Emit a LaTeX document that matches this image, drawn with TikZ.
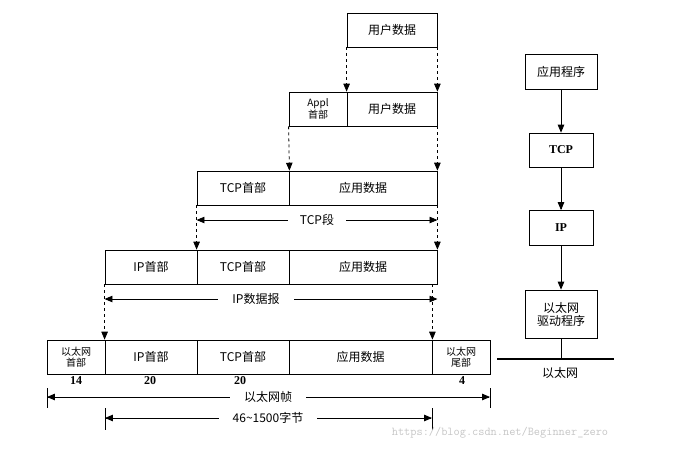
\documentclass[tikz,border=0pt]{standalone}
\usepackage{fontspec}
\setmainfont{Liberation Serif}
\newfontfamily\cjk{Noto Sans CJK SC}
\usetikzlibrary{arrows}

\begin{document}
\begin{tikzpicture}[x=1pt, y=-1pt, font=\cjk\fontsize{12}{13}\selectfont]
      \tikzstyle{cell} = [
        rectangle,
        draw,
        thick,
        inner sep = 0pt,
        align = center,
        minimum height = 34pt
      ]

      \tikzstyle{layer} = [
        rectangle,
        draw,
        thick,
        inner sep = 0pt,
        align = center
      ]

      \tikzstyle{down} = [-triangle 45, thick, dashed]
      \tikzstyle{span} = [triangle 45-triangle 45, thick]
      \tikzstyle{small} = [font=\cjk\fontsize{10}{10.5}\selectfont]
      \tikzstyle{heavy} = [font=\rmfamily\bfseries\fontsize{12}{13}\selectfont]

      \useasboundingbox (0,0) rectangle (674,453);

      % user data
      \node[cell, minimum width=90pt] (user1) at (392,30) {用户数据};

      % application layer
      \node[cell, minimum width=58pt, small] (appl) at (318,109) {Appl\\首部};
      \node[cell, minimum width=90pt] (user2) at (392,109) {用户数据};

      % tcp segment
      \node[cell, minimum width=92pt] (tcph3) at (243,188) {TCP首部};
      \node[cell, minimum width=148pt] (data3) at (363,188) {应用数据};

      % ip datagram
      \node[cell, minimum width=92pt] (iph4) at (151,267) {IP首部};
      \node[cell, minimum width=92pt] (tcph4) at (243,267) {TCP首部};
      \node[cell, minimum width=148pt] (data4) at (363,267) {应用数据};

      % ethernet frame
      \node[cell, minimum width=58pt, small] (ethh) at (76,357) {以太网\\首部};
      \node[cell, minimum width=92pt] (iph5) at (151,357) {IP首部};
      \node[cell, minimum width=92pt] (tcph5) at (243,357) {TCP首部};
      \node[cell, minimum width=143pt] (data5) at (360.5,357) {应用数据};
      \node[cell, minimum width=58pt, small] (etht) at (461,357) {以太网\\尾部};

      \node[heavy] (n14) at (76,381) {14};
      \node[heavy] (n20a) at (150,381) {20};
      \node[heavy] (n20b) at (240,381) {20};
      \node[heavy] (n4) at (462,381) {4};

      % dashed arrows between rows
      \draw[down] (user1.south west) -- (user2.north west);
      \draw[down] (user1.south east) -- (user2.north east);
      \draw[down] (appl.south west) -- (tcph3.north east);
      \draw[down] (user2.south east) -- (data3.north east);
      \draw[down] (tcph3.south west) -- (tcph4.north west);
      \draw[down] (data3.south east) -- (data4.north east);
      \draw[down] (iph4.south west) -- (iph5.north west);
      \draw[down] (data5.north east |- data4.south) -- (data5.north east);

      % spans
      \draw[span] (tcph3.south west |- 0,220) -- (data3.south east |- 0,220);
      \node[fill=white, inner xsep=12pt] (tcpseg) at (317,220) {TCP段};

      \draw[span] (iph4.south west |- 0,299) -- (data4.south east |- 0,299);
      \node[fill=white, inner xsep=14pt] (ipdg) at (256,299) {IP数据报};

      \coordinate (fl) at (47,397);
      \coordinate (fr) at (490,397);
      \draw[span] (fl) -- (fr);
      \draw[thick] (47,388) -- (47,408);
      \draw[thick] (490,388) -- (490,408);
      \node[fill=white, inner xsep=14pt] (frame) at (268,397) {以太网帧};

      \coordinate (pl) at (105,418);
      \coordinate (pr) at (432,418);
      \draw[span] (pl) -- (pr);
      \draw[thick] (105,408) -- (105,430);
      \draw[thick] (432,408) -- (432,430);
      \node[fill=white, inner xsep=14pt] (payload) at (268,418) {46\textasciitilde1500字节};

      % protocol stack
      \node[layer, minimum width=72pt, minimum height=35pt] (app) at (561,72) {应用程序};
      \node[layer, heavy, minimum width=64pt, minimum height=34pt] (tcp) at (561,150) {TCP};
      \node[layer, heavy, minimum width=64pt, minimum height=35pt] (ip) at (561,228) {IP};
      \node[layer, minimum width=72pt, minimum height=48pt] (drv) at (561,314) {以太网\\驱动程序};
      \coordinate (busl) at (497,359);
      \coordinate (busr) at (614,359);
      \draw[line width=2pt] (busl) -- (busr);
      \node (eth) at (560,373) {以太网};

      \draw[-triangle 45, thick] (app) -- (tcp);
      \draw[-triangle 45, thick] (tcp) -- (ip);
      \draw[-triangle 45, thick] (ip) -- (drv);
      \draw[thick] (drv) -- (drv |- busl);

      % watermark
      \node[text=gray!45, font=\ttfamily\fontsize{12}{13}\selectfont] (mark) at (500,433) {https://blog.csdn.net/Beginner\_zero};
    \end{tikzpicture}
\end{document}
